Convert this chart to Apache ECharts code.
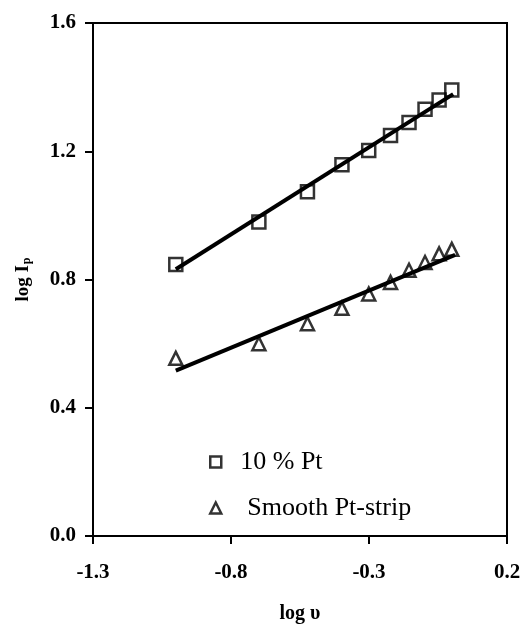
<!DOCTYPE html>
<html>
	<head>
		<meta charset="utf-8">
		<title>log Ip vs log v</title>
		<script src="https://cdn.jsdelivr.net/npm/echarts@6/dist/echarts.min.js"></script>
	</head>
	<body style="margin: 0; background: #fff;">
		<div id="box" style="width: 524px; height: 629px;"></div>
		<script>
			var mCharts = echarts.init(document.querySelector('#box'))

			// log of scan rate (x)
			var logV = [-1.0, -0.699, -0.523, -0.398, -0.301, -0.222, -0.155, -0.097, -0.046, 0.0]
			// 10 % Pt points
			var ptTen = [0.847, 0.979, 1.074, 1.158, 1.202, 1.249, 1.290, 1.331, 1.360, 1.391]
			// smooth Pt-strip points
			var ptSmooth = [0.554, 0.600, 0.662, 0.710, 0.755, 0.791, 0.829, 0.853, 0.880, 0.894]
			// fitted lines, start / end
			var fitTenX = [-1.0, 0.005]
			var fitTenY = [0.832, 1.378]
			var fitSmoothX = [-1.0, 0.012]
			var fitSmoothY = [0.516, 0.877]

			function pairs(xs, ys) {
				return xs.map(function (x, i) { return [x, ys[i]] })
			}

			var font = 'Liberation Serif'
			var hollow = { color: 'rgba(0,0,0,0)', borderColor: '#000', borderWidth: 2.5 }

			var option = {
				animation: false,
				grid: {
					left: 93, right: 17, top: 23, bottom: 88,
					show: true, borderColor: '#000', borderWidth: 2
				},
				legend: {
					orient: 'vertical',
					left: 204,
					top: 444,
					itemWidth: 11,
					itemHeight: 11,
					itemGap: 20,
					textStyle: { fontFamily: font, fontSize: 26, lineHeight: 26, color: '#000' },
					data: [
						{ name: '10 % Pt', icon: 'rect', itemStyle: hollow,
							textStyle: { padding: [0, 0, 0, 14] } },
						{ name: 'Smooth Pt-strip', icon: 'triangle', itemStyle: hollow,
							textStyle: { padding: [0, 0, 0, 21] } }
					]
				},
				xAxis: {
					type: 'value',
					min: -1.3,
					max: 0.2,
					interval: 0.5,
					name: 'log υ',
					nameLocation: 'middle',
					nameGap: 68,
					nameTextStyle: { fontFamily: font, fontSize: 20, fontWeight: 'bold', color: '#000' },
					splitLine: { show: false },
					axisLine: { onZero: false, lineStyle: { color: '#000', width: 2 } },
					axisTick: { length: 8, lineStyle: { color: '#000', width: 2 } },
					axisLabel: {
						margin: 26,
						fontFamily: font, fontSize: 21, fontWeight: 'bold', color: '#000',
						formatter: function (v) { return v.toFixed(1) }
					}
				},
				yAxis: {
					type: 'value',
					min: 0,
					max: 1.6,
					interval: 0.4,
					name: '{m|log I}{s|p}',
					nameLocation: 'middle',
					nameGap: 60,
					nameTextStyle: {
						color: '#000',
						rich: {
							m: { fontFamily: font, fontSize: 19, fontWeight: 'bold', color: '#000' },
							s: { fontFamily: font, fontSize: 12, fontWeight: 'bold', color: '#000', padding: [8, 0, 0, 1] }
						}
					},
					splitLine: { show: false },
					axisLine: { onZero: false, lineStyle: { color: '#000', width: 2 } },
					axisTick: { length: 8, lineStyle: { color: '#000', width: 2 } },
					axisLabel: {
						margin: 17,
						fontFamily: font, fontSize: 21, fontWeight: 'bold', color: '#000',
						formatter: function (v) { return v.toFixed(1) }
					}
				},
				series: [
					{
						name: '10 % Pt',
						type: 'scatter',
						symbol: 'rect',
						symbolSize: 13,
						itemStyle: hollow,
						data: pairs(logV, ptTen)
					},
					{
						name: 'Smooth Pt-strip',
						type: 'scatter',
						symbol: 'triangle',
						symbolSize: 13,
						itemStyle: hollow,
						data: pairs(logV, ptSmooth)
					},
					{
						type: 'line',
						z: 5,
						symbol: 'none',
						lineStyle: { color: '#000', width: 4 },
						data: pairs(fitTenX, fitTenY)
					},
					{
						type: 'line',
						z: 5,
						symbol: 'none',
						lineStyle: { color: '#000', width: 4 },
						data: pairs(fitSmoothX, fitSmoothY)
					}
				]
			}
			mCharts.setOption(option)
		</script>
	</body>
</html>
